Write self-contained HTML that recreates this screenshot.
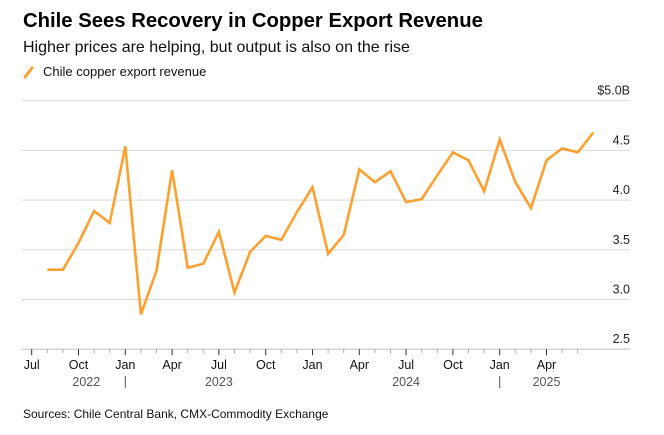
<!DOCTYPE html>
<html><head><meta charset="utf-8"><style>
body{margin:0;background:#fff;font-family:"Liberation Sans",sans-serif;}
svg text{font-family:"Liberation Sans",sans-serif;}
</style></head><body>
<svg width="664" height="430" viewBox="0 0 664 430">
<text x="23" y="27" font-size="20.3" font-weight="bold" fill="#000">Chile Sees Recovery in Copper Export Revenue</text>
<text x="23" y="52" font-size="16" fill="#111">Higher prices are helping, but output is also on the rise</text>
<g>
<line x1="25" y1="77" x2="32" y2="68" stroke="#ff9f2e" stroke-width="3" stroke-linecap="round"/>
<text x="43" y="76" font-size="13" fill="#111">Chile copper export revenue</text>
</g>
<g id="grid"></g>
<g id="xaxis"></g>
<path id="line" fill="none" stroke="#ff9f2e" stroke-width="2.6" stroke-linejoin="miter"/>
<text x="23" y="418" font-size="12" fill="#111">Sources: Chile Central Bank, CMX-Commodity Exchange</text>
</svg>
<script>
const yTicks=[2.5,3.0,3.5,4.0,4.5,5.0];
const yTickLabels=["2.5","3.0","3.5","4.0","4.5","$5.0B"];
const xTickLabels=["Jul","Oct","Jan","Apr","Jul","Oct","Jan","Apr","Jul","Oct","Jan","Apr"];
const xTickIdx=[0,3,6,9,12,15,18,21,24,27,30,33];
const years=["2022","2023","2024","2025"];
const yearPos=[3.5,12,24,33];
const yearSep=[6,30];
const monthStart=1;
const values=[3.30,3.30,3.57,3.89,3.77,4.54,2.85,3.29,4.30,3.32,3.36,3.68,3.07,3.48,3.64,3.60,3.88,4.13,3.46,3.65,4.31,4.18,4.29,3.98,4.01,4.25,4.48,4.40,4.09,4.61,4.18,3.92,4.40,4.52,4.48,4.68];
const NS="http://www.w3.org/2000/svg";
const x=i=>31.7+15.6*i;
const y=v=>100.7+(5-v)*99.4;
const grid=document.getElementById('grid'), xa=document.getElementById('xaxis');
yTicks.forEach((t,k)=>{
 const l=document.createElementNS(NS,'line');
 l.setAttribute('x1',22);l.setAttribute('x2',630);l.setAttribute('y1',y(t));l.setAttribute('y2',y(t));
 l.setAttribute('stroke',k==0?'#d0d0d0':'#d9d9d9');l.setAttribute('stroke-width',k==0?1.3:1);
 
 
 grid.appendChild(l);
 const tx=document.createElementNS(NS,'text');
 tx.setAttribute('x',630);tx.setAttribute('y',y(t)-6);tx.setAttribute('text-anchor','end');
 tx.setAttribute('font-size','12.5');tx.setAttribute('fill','#222');tx.textContent=yTickLabels[k];
 
 
 grid.appendChild(tx);
});
for(let i=0;i<=35;i++){
 const major=xTickIdx.includes(i);
 const l=document.createElementNS(NS,'line');
 l.setAttribute('x1',x(i));l.setAttribute('x2',x(i));l.setAttribute('y1',y(2.5));l.setAttribute('y2',y(2.5)+(major?6:4));
 l.setAttribute('stroke',major?'#333':'#aaa');l.setAttribute('stroke-width',1);
 
 
 xa.appendChild(l);
}
xTickIdx.forEach((i,k)=>{
 const tx=document.createElementNS(NS,'text');
 tx.setAttribute('x',x(i));tx.setAttribute('y',369);tx.setAttribute('text-anchor','middle');
 tx.setAttribute('font-size','12.5');tx.setAttribute('fill','#111');tx.textContent=xTickLabels[k];
 
 
 xa.appendChild(tx);
});
years.forEach((yr,k)=>{
 const tx=document.createElementNS(NS,'text');
 tx.setAttribute('x',x(yearPos[k]));tx.setAttribute('y',386);tx.setAttribute('text-anchor','middle');
 tx.setAttribute('font-size','12.5');tx.setAttribute('fill','#555');tx.textContent=yr;
 
 
 xa.appendChild(tx);
});
yearSep.forEach(i=>{
 const l=document.createElementNS(NS,'line');
 l.setAttribute('x1',x(i));l.setAttribute('x2',x(i));l.setAttribute('y1',376);l.setAttribute('y2',388);
 l.setAttribute('stroke','#555');l.setAttribute('stroke-width',1);
 
 
 xa.appendChild(l);
});
document.getElementById('line').setAttribute('d',values.map((v,i)=>(i?'L':'M')+x(i+monthStart).toFixed(1)+','+y(v).toFixed(1)).join(''));
</script>
</body></html>
